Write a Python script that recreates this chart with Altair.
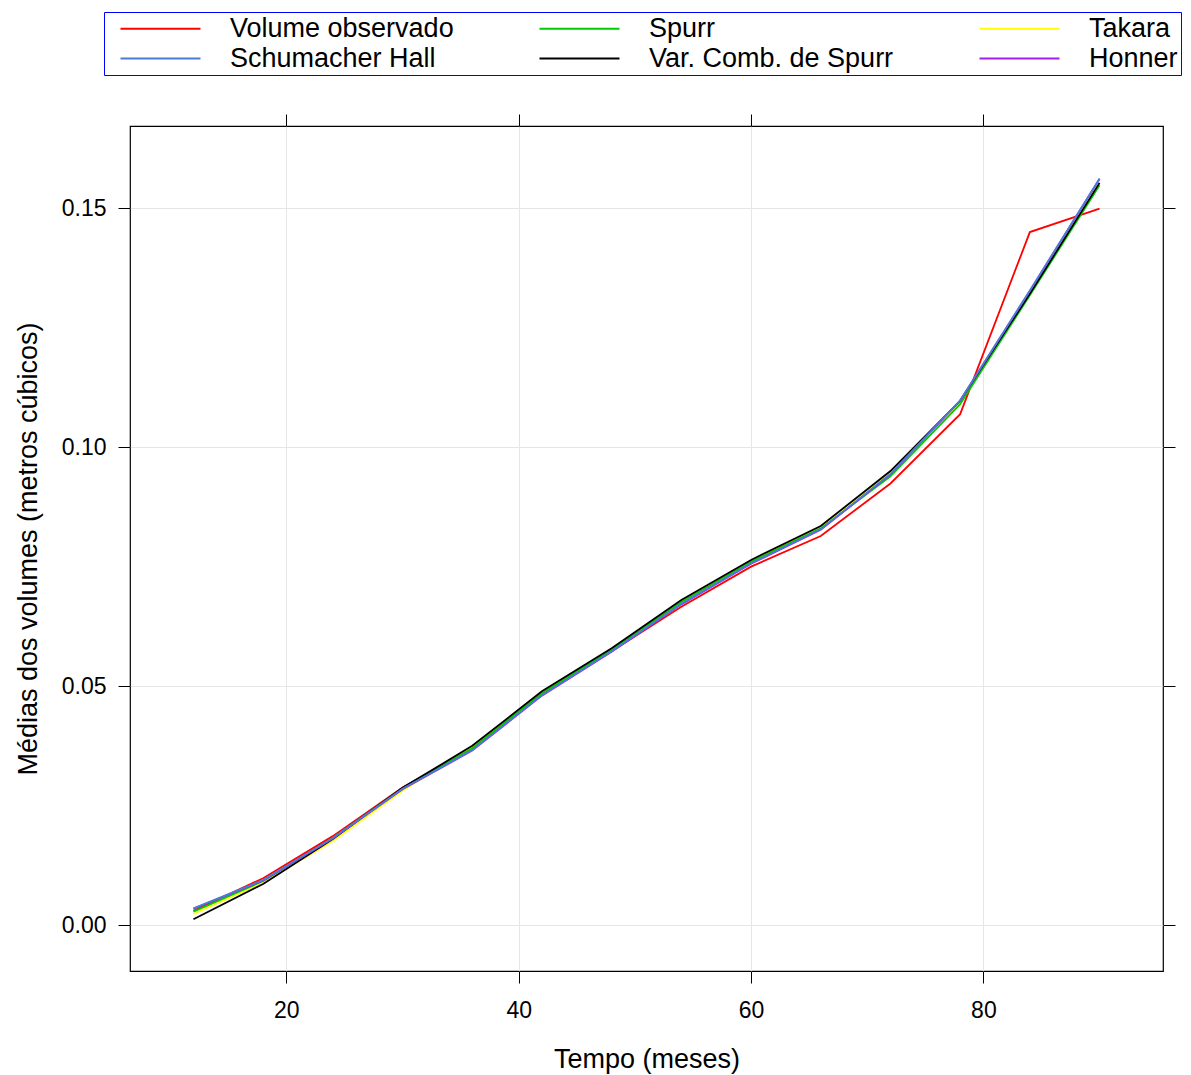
import altair as alt
import pandas as pd

meses = [12, 18, 24, 30, 36, 42, 48, 54, 60, 66, 72, 78, 84, 90]

observado = [0.0030, 0.0098, 0.0186, 0.0288, 0.0370, 0.0482, 0.0573, 0.0666, 0.0750, 0.0814, 0.0924, 0.1069, 0.1450, 0.1499]
schumacher = [0.0035, 0.0094, 0.0182, 0.0285, 0.0366, 0.0481, 0.0573, 0.0672, 0.0757, 0.0828, 0.0944, 0.1098, 0.1328, 0.1562]
honner = [0.0034, 0.0093, 0.0181, 0.0284, 0.0365, 0.0480, 0.0572, 0.0671, 0.0756, 0.0827, 0.0943, 0.1097, 0.1327, 0.1561]
spurr = [0.0028, 0.0092, 0.0182, 0.0286, 0.0370, 0.0485, 0.0576, 0.0676, 0.0760, 0.0830, 0.0939, 0.1090, 0.1318, 0.1548]
takara = [0.0023, 0.0089, 0.0176, 0.0281, 0.0372, 0.0487, 0.0577, 0.0676, 0.0762, 0.0834, 0.0948, 0.1095, 0.1322, 0.1552]
varcomb = [0.0012, 0.0086, 0.0180, 0.0287, 0.0375, 0.0489, 0.0579, 0.0680, 0.0764, 0.0835, 0.0950, 0.1097, 0.1321, 0.1553]

# draw order (first drawn at the bottom)
series = [
    ("Volume observado", observado),
    ("Takara", takara),
    ("Spurr", spurr),
    ("Var. Comb. de Spurr", varcomb),
    ("Honner", honner),
    ("Schumacher Hall", schumacher),
]

# legend entries fill column by column (2 rows x 3 columns)
legend_order = ["Volume observado", "Schumacher Hall", "Spurr",
                "Var. Comb. de Spurr", "Takara", "Honner"]
legend_colors = ["#ff0000", "#4a7bd6", "#00cc00",
                 "#000000", "#ffff00", "#a020f0"]

rows = []
for k, (name, vals) in enumerate(series):
    for x, v in zip(meses, vals):
        rows.append({"Tempo": x, "Volume": v, "Serie": name, "ordem": k})
df = pd.DataFrame(rows)

FONT = "Liberation Sans"
xdom = [6.54, 95.46]
ydom = [-0.00962, 0.1672]

xscale = alt.Scale(domain=xdom, nice=False, zero=False)
yscale = alt.Scale(domain=ydom, nice=False, zero=False)

lines = alt.Chart(df).mark_line(strokeWidth=1.8).encode(
    x=alt.X("Tempo:Q", scale=xscale, title="Tempo (meses)",
            axis=alt.Axis(values=[20, 40, 60, 80], format="d", grid=True,
                          tickSize=12, labelPadding=16, titlePadding=24,
                          labelFontSize=23, titleFontSize=27)),
    y=alt.Y("Volume:Q", scale=yscale, title="Médias dos volumes (metros cúbicos)",
            axis=alt.Axis(values=[0, 0.05, 0.10, 0.15], format=".2f", grid=True,
                          tickSize=12, labelPadding=12, titlePadding=19,
                          labelFontSize=23, titleFontSize=27)),
    color=alt.Color("Serie:N", title=None,
                    scale=alt.Scale(domain=legend_order, range=legend_colors),
                    legend=alt.Legend(orient="none", legendX=-26, legendY=-114,
                                      columns=3,
                                      symbolType="M-4,0L4,0",
                                      symbolSize=400, symbolStrokeWidth=1.8,
                                      symbolOffset=40,
                                      labelFontSize=27, labelFont=FONT,
                                      labelLimit=500, labelOffset=56,
                                      columnPadding=72, rowPadding=2,
                                      padding=3, strokeColor="#0000ff",
                                      fillColor="#ffffff")),
    detail="ordem:N",
    order="Tempo:Q",
)

ticks_other = alt.Chart(df).mark_point(opacity=0).encode(
    x=alt.X("Tempo:Q", scale=xscale,
            axis=alt.Axis(orient="top", values=[20, 40, 60, 80], labels=False,
                          title=None, grid=False, tickSize=12, domain=False)),
    y=alt.Y("Volume:Q", scale=yscale,
            axis=alt.Axis(orient="right", values=[0, 0.05, 0.10, 0.15], labels=False,
                          title=None, grid=False, tickSize=12, domain=False)),
)

chart = alt.layer(ticks_other, lines).resolve_axis(
    x="independent", y="independent"
).properties(
    width=1033, height=845,
    autosize=alt.AutoSizeParams(type="none"),
    padding={"left": 130, "top": 126, "right": 28, "bottom": 104},
).configure(
    font=FONT,
).configure_view(
    stroke="#000000", strokeWidth=1.2,
).configure_axis(
    gridColor="#e6e6e6", gridWidth=1, tickColor="#000000", domain=False,
    labelColor="#000000", titleColor="#000000", labelFont=FONT, titleFont=FONT,
    titleFontWeight="normal",
)

chart.save("out.html", embed_options={"renderer": "svg", "actions": False})
